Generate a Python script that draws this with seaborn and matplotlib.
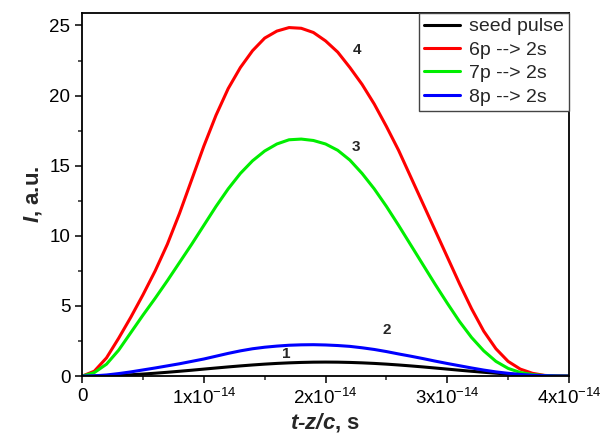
import numpy as np
import pandas as pd
import seaborn as sns
import matplotlib.pyplot as plt
from matplotlib.ticker import MultipleLocator

# time axis, in units of 1e-14 s
t_units = [0.0, 0.1, 0.2, 0.3, 0.4, 0.5, 0.6, 0.7, 0.8, 0.9, 1.0,
           1.1, 1.2, 1.3, 1.4, 1.5, 1.6, 1.7, 1.8, 1.9, 2.0,
           2.1, 2.2, 2.3, 2.4, 2.5, 2.6, 2.7, 2.8, 2.9, 3.0,
           3.1, 3.2, 3.3, 3.4, 3.5, 3.6, 3.7, 3.8, 3.9, 4.0]

seed_pulse = [0.0, 0.006, 0.025, 0.055, 0.095, 0.146, 0.206, 0.273, 0.345, 0.42, 0.50,
              0.578, 0.655, 0.727, 0.794, 0.854, 0.905, 0.945, 0.975, 0.994, 1.0,
              0.994, 0.975, 0.945, 0.905, 0.854, 0.794, 0.727, 0.655, 0.578, 0.50,
              0.42, 0.345, 0.273, 0.206, 0.146, 0.095, 0.055, 0.025, 0.006, 0.0]
line_6p = [0.0, 0.35, 1.3, 2.7, 4.2, 5.8, 7.5, 9.4, 11.6, 14.0, 16.4,
           18.6, 20.5, 22.0, 23.2, 24.1, 24.6, 24.85, 24.8, 24.5, 23.9,
           23.1, 22.0, 20.8, 19.4, 17.8, 16.1, 14.2, 12.3, 10.4, 8.5,
           6.6, 4.8, 3.2, 1.95, 1.05, 0.5, 0.2, 0.05, 0.01, 0.0]
line_7p = [0.0, 0.25, 0.85, 1.85, 3.1, 4.35, 5.55, 6.8, 8.1, 9.4, 10.75,
           12.1, 13.35, 14.45, 15.35, 16.05, 16.55, 16.85, 16.9, 16.8, 16.55,
           16.1, 15.4, 14.45, 13.35, 12.1, 10.75, 9.35, 7.95, 6.55, 5.2,
           3.9, 2.75, 1.8, 1.05, 0.55, 0.26, 0.11, 0.04, 0.01, 0.0]
line_8p = [0.0, 0.02, 0.08, 0.18, 0.30, 0.44, 0.58, 0.73, 0.88, 1.05, 1.22,
           1.42, 1.62, 1.80, 1.95, 2.06, 2.14, 2.20, 2.23, 2.24, 2.22,
           2.18, 2.12, 2.02, 1.90, 1.75, 1.58, 1.42, 1.25, 1.07, 0.90,
           0.74, 0.58, 0.43, 0.30, 0.20, 0.12, 0.06, 0.03, 0.01, 0.0]

series_names = ['seed pulse', '6p --> 2s', '7p --> 2s', '8p --> 2s']
series_colors = ['black', '#ff0000', '#00ee00', '#0000ff']

x_ticks = [0, 1e-14, 2e-14, 3e-14, 4e-14]
x_tick_labels = ['0', '1x10$^{-14}$', '2x10$^{-14}$', '3x10$^{-14}$', '4x10$^{-14}$']
y_ticks = [0, 5, 10, 15, 20, 25]

curve_labels = ['1', '2', '3', '4']
curve_label_x = [1.68e-14, 2.5e-14, 2.25e-14, 2.26e-14]
curve_label_y = [1.6, 3.3, 16.3, 23.25]

sns.set_style('ticks')
plt.rcParams['font.family'] = ['Liberation Sans', 'DejaVu Sans']
plt.rcParams['mathtext.fontset'] = 'custom'
plt.rcParams['mathtext.rm'] = 'Liberation Sans'
plt.rcParams['mathtext.it'] = 'Liberation Sans:italic'
plt.rcParams['mathtext.bf'] = 'Liberation Sans:bold'
plt.rcParams['mathtext.bfit'] = 'Liberation Sans:italic:bold'

t_sec = np.array(t_units) * 1e-14
frames = []
for name, vals in zip(series_names, [seed_pulse, line_6p, line_7p, line_8p]):
    frames.append(pd.DataFrame({'t': t_sec, 'I': vals, 'series': name}))
df = pd.concat(frames, ignore_index=True)

fig = plt.figure(figsize=(6.04, 4.43), dpi=100)
ax = fig.add_axes([0.136, 0.151, 0.806, 0.820])

sns.lineplot(data=df, x='t', y='I', hue='series', hue_order=series_names,
             palette=series_colors, linewidth=2.2, ax=ax)

ax.set_xlim(0, 4e-14)
ax.set_ylim(0, 25.9)
ax.set_xticks(x_ticks)
ax.set_xticklabels(x_tick_labels)
ax.set_yticks(y_ticks)
ax.xaxis.set_minor_locator(MultipleLocator(0.5e-14))
ax.yaxis.set_minor_locator(MultipleLocator(2.5))
ax.tick_params(which='major', direction='out', length=5, width=1.1,
               labelsize=13.5, colors='black')
ax.tick_params(which='minor', direction='out', length=3, width=1.1)
for sp in ax.spines.values():
    sp.set_linewidth(1.3)
    sp.set_color('black')

ax.set_xlabel('$\\mathbfit{t\u2010z/c}$, s', fontsize=16, fontweight='bold', labelpad=2)
ax.set_ylabel('$\\mathbfit{I}$, a.u.', fontsize=16, fontweight='bold', labelpad=4)

for lab, lx, ly in zip(curve_labels, curve_label_x, curve_label_y):
    ax.text(lx, ly, lab, fontsize=11, fontweight='bold', ha='center', va='center')

leg = ax.legend(loc='upper right', borderaxespad=0, fontsize=14, frameon=True,
                fancybox=False, edgecolor='#444444', framealpha=1,
                handlelength=1.85, handletextpad=0.5, borderpad=0.25,
                labelspacing=0.3, title=None)
leg.get_frame().set_linewidth(1.0)

fig.savefig('out.png', dpi=100)
